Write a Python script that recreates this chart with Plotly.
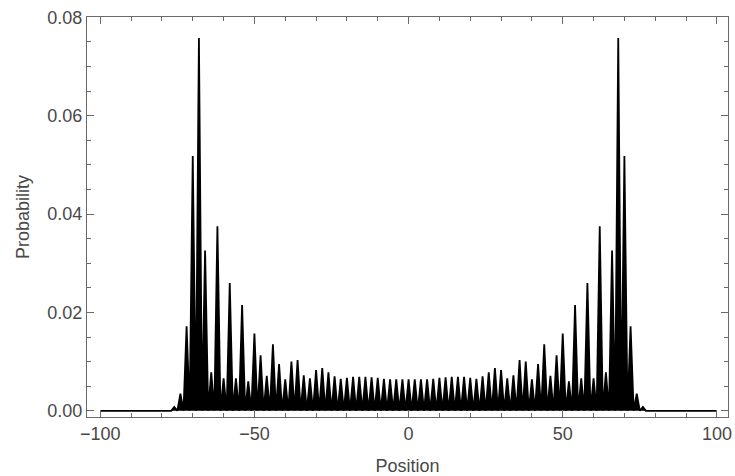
import plotly.graph_objects as go

positions = list(range(-100, 101))

probability = (
    [0.0] * 24 +  # -100 .. -77
    [0.0008, 0, 0.0035, 0, 0.0172, 0, 0.0518, 0, 0.0758, 0,      # -76 .. -67
     0.0326, 0, 0.0078, 0, 0.0375, 0, 0.0066, 0, 0.0260, 0,      # -66 .. -57
     0.0066, 0, 0.0215, 0, 0.0060, 0, 0.0157, 0, 0.0113, 0,      # -56 .. -47
     0.0071, 0, 0.0135, 0, 0.0095, 0, 0.0064, 0, 0.0100, 0,      # -46 .. -37
     0.0103, 0, 0.0072, 0, 0.0066, 0, 0.0083, 0, 0.0087, 0,      # -36 .. -27
     0.0078, 0, 0.0070, 0, 0.0065, 0, 0.0067, 0, 0.0069, 0,      # -26 .. -17
     0.0069, 0, 0.0069, 0, 0.0068, 0, 0.0067, 0, 0.0065, 0,      # -16 .. -7
     0.0064, 0, 0.0064, 0, 0.0064, 0,                            # -6 .. -1
     0.0064,                                                     # 0
     0, 0.0064, 0, 0.0064, 0, 0.0064,                            # 1 .. 6
     0, 0.0065, 0, 0.0067, 0, 0.0068, 0, 0.0069, 0, 0.0069,      # 7 .. 16
     0, 0.0069, 0, 0.0067, 0, 0.0065, 0, 0.0070, 0, 0.0078,      # 17 .. 26
     0, 0.0087, 0, 0.0083, 0, 0.0066, 0, 0.0072, 0, 0.0103,      # 27 .. 36
     0, 0.0100, 0, 0.0064, 0, 0.0095, 0, 0.0135, 0, 0.0071,      # 37 .. 46
     0, 0.0113, 0, 0.0157, 0, 0.0060, 0, 0.0215, 0, 0.0066,      # 47 .. 56
     0, 0.0260, 0, 0.0066, 0, 0.0375, 0, 0.0078, 0, 0.0326,      # 57 .. 66
     0, 0.0758, 0, 0.0518, 0, 0.0172, 0, 0.0035, 0, 0.0008] +    # 67 .. 76
    [0.0] * 24    # 77 .. 100
)
assert len(probability) == len(positions)

x_tickvals = [-100, -50, 0, 50, 100]
y_tickvals = [0.00, 0.02, 0.04, 0.06, 0.08]
y_ticktext = ["0.00", "0.02", "0.04", "0.06", "0.08"]

frame_col = "#6a6a6a"
label_col = "#484848"
font_fam = "Liberation Sans, Arial, sans-serif"

fig = go.Figure()
fig.add_trace(go.Scatter(
    x=positions, y=probability, mode="lines",
    line=dict(color="black", width=1.8),
    fill="tozeroy", fillcolor="black",
    showlegend=False,
))

axis_common = dict(
    showgrid=False, zeroline=False, showline=True, linecolor=frame_col,
    linewidth=1, mirror="ticks", ticks="inside", tickcolor=frame_col,
    tickwidth=1, ticklabeloverflow="allow",
    tickfont=dict(family=font_fam, size=18, color=label_col),
)

fig.update_layout(
    width=735, height=476,
    margin=dict(l=87, r=3, t=17, b=59),
    paper_bgcolor="white", plot_bgcolor="white",
    xaxis=dict(
        range=[-104.3, 103.6], tickvals=x_tickvals, ticklen=7,
        minor=dict(dtick=10, tick0=0, ticklen=4, ticks="inside", tickcolor=frame_col),
        title=dict(text="Position", standoff=16,
                   font=dict(family=font_fam, size=18, color=label_col)),
        **axis_common,
    ),
    yaxis=dict(
        range=[-0.00126, 0.08005], tickvals=y_tickvals, ticktext=y_ticktext, ticklen=7,
        minor=dict(dtick=0.005, tick0=0, ticklen=4, ticks="inside", tickcolor=frame_col),
        title=dict(text="Probability", standoff=13,
                   font=dict(family=font_fam, size=18, color=label_col)),
        **axis_common,
    ),
)

fig.write_html("out.html")
